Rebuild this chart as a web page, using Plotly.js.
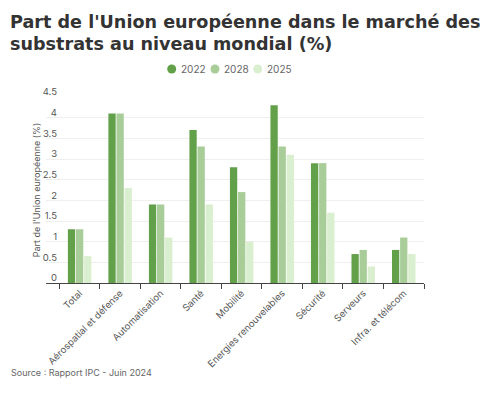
<!DOCTYPE html>
<html>
<head>
<meta charset="utf-8">
<script src="https://cdn.plot.ly/plotly-3.0.1.min.js"></script>
<style>html,body{margin:0;padding:0;background:#fff;}#chart{width:494px;height:393px;}</style>
</head>
<body>
<div id="chart"></div>
<script>
const categories = ["Total", "Aérospatial et défense", "Automatisation", "Santé", "Mobilité", "Energies renouvelables", "Sécurité", "Serveurs", "Infra. et télécom"];
const seriesNames = ["2022", "2028", "2025"];
const values2022 = [1.3, 4.1, 1.9, 3.7, 2.8, 4.3, 2.9, 0.7, 0.8];
const values2028 = [1.3, 4.1, 1.9, 3.3, 2.2, 3.3, 2.9, 0.8, 1.1];
const values2025 = [0.65, 2.3, 1.1, 1.9, 1.0, 3.1, 1.7, 0.4, 0.7];
const colors = ["#62a04a", "#a9cd99", "#daefcf"];
const allValues = [values2022, values2028, values2025];

const FONT = "Inter, 'Open Sans', sans-serif";
const TFONT = "'DejaVu Sans', Inter, sans-serif";
const W = 494, H = 393, ML = 46, MR = 70, MT = 97, MB = 110;
const PW = W - ML - MR, PH = H - MT - MB;
const px2x = p => (p - ML) / PW;
const py2y = p => (H - MB - p) / PH;

const traces = allValues.map((vals, i) => ({
  type: "bar", x: categories, y: vals, name: seriesNames[i],
  marker: {color: colors[i]}, showlegend: false
}));

// custom legend (circle swatches + labels)
const legendX = [171.7, 215, 257.7];
const legendY = 69;
const shapes = [];
const annotations = [];
seriesNames.forEach((n, i) => {
  shapes.push({
    type: "circle", xref: "paper", yref: "paper", line: {width: 0},
    fillcolor: colors[i],
    x0: px2x(legendX[i] - 4.5), x1: px2x(legendX[i] + 4.5),
    y0: py2y(legendY + 4.5), y1: py2y(legendY - 4.5)
  });
  annotations.push({
    text: n, xref: "paper", yref: "paper", x: px2x(legendX[i] + 7), y: py2y(legendY),
    xanchor: "left", yanchor: "middle", showarrow: false,
    font: {family: FONT, size: 10, color: "#666"}
  });
});
annotations.push({
  text: "Source : Rapport IPC - Juin 2024", xref: "paper", yref: "paper",
  x: px2x(9), y: py2y(372), xanchor: "left", yanchor: "middle", showarrow: false,
  font: {family: FONT, size: 9, color: "#666"}
});

const layout = {
  width: W, height: H,
  margin: {l: ML, r: MR, t: MT, b: MB, pad: 0},
  paper_bgcolor: "#fff", plot_bgcolor: "#fff",
  font: {family: FONT, size: 10, color: "#555"},
  showlegend: false,
  title: {
    text: "Part de l'Union européenne dans le marché des<br>substrats au niveau mondial (%)",
    x: 10 / W, xref: "container", xanchor: "left", y: 1 - 27.5 / H, yref: "container", yanchor: "middle",
    font: {family: TFONT, size: 17.6, color: "#333", weight: "bold"}
  },
  barmode: "group", bargap: 0.4, bargroupgap: 0.1,
  xaxis: {
    type: "category", range: [-0.83, 8.5], tickson: "boundaries",
    ticks: "outside", ticklen: 5, tickcolor: "#444", tickwidth: 1,
    showline: true, linecolor: "#444", linewidth: 1,
    tickangle: -45, tickfont: {family: FONT, size: 9.5, color: "#555"},
    showgrid: false, zeroline: false, automargin: false
  },
  yaxis: {
    range: [0, 4.5], dtick: 0.5, tick0: 0,
    ticks: "", ticklabelstandoff: -12, ticklabelshift: -5,
    tickfont: {family: FONT, size: 9.5, color: "#555"},
    showgrid: true, gridcolor: "#efefef", gridwidth: 1, zeroline: false,
    showline: false, automargin: false,
    title: {text: "Part de l'Union européenne (%)", font: {family: FONT, size: 9, color: "#555"}, standoff: 0}
  },
  shapes: shapes,
  annotations: annotations
};

Plotly.newPlot("chart", traces, layout, {displayModeBar: false, staticPlot: true});
</script>
</body>
</html>
